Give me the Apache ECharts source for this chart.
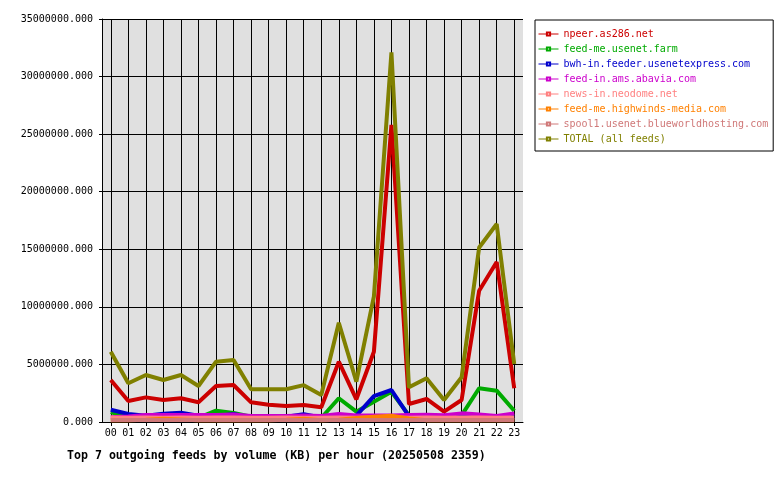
<!DOCTYPE html>
<html>
<head>
<meta charset="utf-8">
<script src="https://cdn.jsdelivr.net/npm/echarts@6/dist/echarts.min.js"></script>
<style>
  html, body { margin: 0; padding: 0; background: #ffffff; }
  #chart { width: 780px; height: 480px; }
</style>
</head>
<body>
<div id="chart"></div>
<script>
// hours of the day
var hours = ['00','01','02','03','04','05','06','07','08','09','10','11',
             '12','13','14','15','16','17','18','19','20','21','22','23'];

// KB per hour
var npeer     = [3650000,1820000,2140000,1910000,2060000,1710000,3130000,3210000,1710000,1500000,1390000,1480000,
                 1280000,5240000,1970000,6100000,25800000,1560000,2000000,900000,1910000,11400000,13900000,2930000];
var usenetFarm = [850000,350000,300000,300000,300000,350000,980000,780000,450000,350000,350000,350000,
                 350000,2060000,900000,1760000,2630000,580000,550000,480000,580000,2930000,2720000,980000];
var bwhIn     = [1060000,700000,550000,720000,800000,550000,500000,700000,400000,450000,450000,670000,
                 400000,500000,550000,2240000,2780000,480000,450000,450000,450000,450000,400000,450000];
var abavia    = [420000,480000,600000,600000,600000,600000,600000,650000,520000,520000,520000,560000,
                 520000,700000,560000,560000,560000,600000,620000,580000,750000,650000,520000,750000];
var neodome   = [380000,370000,380000,370000,380000,370000,380000,380000,370000,370000,380000,370000,
                 370000,380000,370000,380000,380000,370000,380000,370000,380000,380000,370000,380000];
var highwinds = [150000,150000,200000,280000,220000,150000,150000,150000,150000,150000,200000,280000,
                 150000,200000,350000,450000,550000,300000,150000,150000,150000,150000,150000,150000];
var spool1    = [170000,170000,170000,170000,170000,170000,170000,170000,170000,170000,170000,170000,
                 170000,170000,170000,170000,170000,170000,170000,170000,170000,170000,170000,170000];
var total     = [6100000,3360000,4080000,3650000,4080000,3130000,5240000,5380000,2840000,2840000,2840000,3200000,
                 2340000,8620000,3500000,10900000,32100000,3010000,3800000,1910000,3880000,15150000,17200000,5040000];

var names  = ['npeer.as286.net','feed-me.usenet.farm','bwh-in.feeder.usenetexpress.com','feed-in.ams.abavia.com',
              'news-in.neodome.net','feed-me.highwinds-media.com','spool1.usenet.blueworldhosting.com','TOTAL (all feeds)'];
var values = [npeer, usenetFarm, bwhIn, abavia, neodome, highwinds, spool1, total];
var colors = ['#cc0000','#00aa00','#0000cc','#cc00cc','#ff8080','#ff8000','#d07878','#808000'];

var mono = 'DejaVu Sans Mono';

var chart = echarts.init(document.getElementById('chart'));

var series = names.map(function (n, i) {
  return {
    name: n,
    type: 'line',
    xAxisIndex: 0,
    data: values[i],
    symbol: 'emptyRect',
    showSymbol: false,
    symbolSize: 4,
    color: colors[i],
    lineStyle: { width: 4, color: colors[i] }
  };
});

var option = {
  animation: false,
  title: {
    text: 'Top 7 outgoing feeds by volume (KB) per hour (20250508 2359)',
    left: 62,
    top: 445,
    textStyle: { fontFamily: mono, fontSize: 11.6, fontWeight: 'bold', color: '#000' }
  },
  legend: {
    orient: 'vertical',
    left: 535,
    top: 20,
    padding: [8, 5, 6, 3],
    itemGap: 3,
    itemWidth: 20,
    itemHeight: 4,
    borderColor: '#000',
    borderWidth: 1,
    borderRadius: 0,
    backgroundColor: '#fff',
    lineStyle: { width: 1 },
    data: names.map(function (n, i) {
      return { name: n, textStyle: { color: colors[i] } };
    }),
    textStyle: { fontFamily: mono, fontSize: 10, lineHeight: 12 }
  },
  grid: {
    left: 102, right: 257, top: 19, bottom: 58,
    show: true, backgroundColor: '#e0e0e0', borderWidth: 0
  },
  xAxis: [{
    type: 'category',
    data: hours,
    boundaryGap: true,
    axisLine: { show: true, lineStyle: { color: '#000', width: 1 } },
    axisTick: { show: true, interval: 0, alignWithLabel: true, inside: true, length: 403, lineStyle: { color: '#000', width: 1 } },
    axisLabel: { show: true, interval: 0, color: '#000', fontFamily: mono, fontSize: 10, margin: 6 },
    splitLine: { show: false }
  }, {
    type: 'category',
    data: hours,
    position: 'bottom',
    offset: 0,
    boundaryGap: true,
    axisLine: { show: false },
    axisTick: { show: true, interval: 0, alignWithLabel: true, length: 4, lineStyle: { color: '#000', width: 1 } },
    axisLabel: { show: false },
    splitLine: { show: false }
  }],
  yAxis: {
    type: 'value',
    min: 0,
    max: 35000000,
    interval: 5000000,
    axisLine: { show: true, lineStyle: { color: '#000', width: 1 } },
    axisTick: { show: true, length: 3, lineStyle: { color: '#000' } },
    axisLabel: {
      color: '#000', fontFamily: mono, fontSize: 10, margin: 9,
      formatter: function (v) { return v.toFixed(3); }
    },
    splitLine: { show: true, lineStyle: { color: '#000', width: 1 } }
  },
  series: series
};

chart.setOption(option);
</script>
</body>
</html>
